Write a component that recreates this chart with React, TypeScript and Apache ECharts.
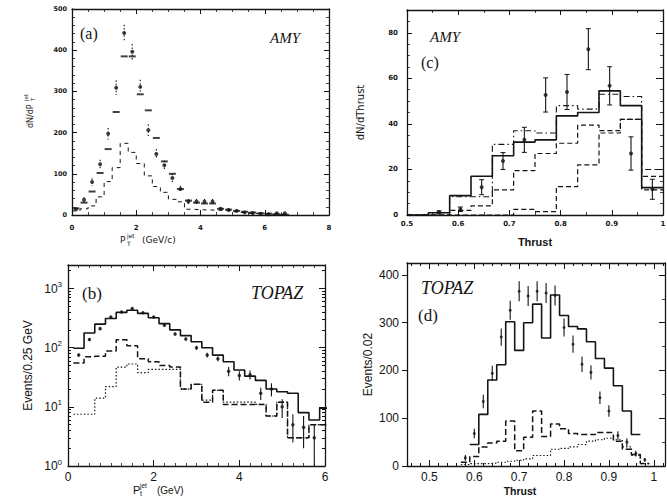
import React, { useEffect, useRef } from 'react';
import * as echarts from 'echarts';

// ---------- Panel (a) AMY : dN/dPT jet ----------
const aCenters = [0.125, 0.375, 0.625, 0.875, 1.125, 1.375, 1.625, 1.875, 2.125, 2.375, 2.625, 2.875, 3.125, 3.375, 3.625, 3.875, 4.125, 4.375, 4.625, 4.875, 5.125, 5.375, 5.625, 5.875, 6.125, 6.375, 6.625];
const aData = [14, 37, 80, 123, 197, 309, 442, 396, 311, 206, 148, 121, 90, 63, 33, 33, 33, 33, 15, 12, 10, 6, 5, 3, 2, 4, 4];
const aDataErr = [4, 6, 9, 11, 14, 18, 20, 19, 17, 14, 12, 11, 10, 8, 6, 6, 6, 6, 4, 4, 3, 3, 2, 2, 2, 2, 2];
const aMc = [16, 30, 57, 102, 160, 250, 385, 385, 293, 254, 187, 130, 100, 63, 35, 30, 28, 28, 15, 13, 10, 8, 6, 4, 3, 2, 1];
const aLowEdges = [0, 0.25, 0.5, 0.75, 1, 1.25, 1.5, 1.75, 2, 2.25, 2.5, 2.75, 3, 3.25, 3.5, 3.75, 4, 4.25, 4.5, 4.75, 5, 5.25, 5.5, 5.75, 6, 6.25, 6.5, 6.75];
const aLow = [10, 15, 22, 44, 81, 115, 174, 152, 125, 95, 69, 55, 38, 32, 14, 13, 12, 12, 11, 10, 8, 6, 4, 3, 2, 1, 1];

// ---------- Panel (c) AMY : dN/dThrust ----------
const cEdges = [0.5, 0.5417, 0.5833, 0.625, 0.6667, 0.7083, 0.75, 0.7917, 0.8333, 0.875, 0.9167, 0.9583, 1.0];
const cSolid = [0, 1, 8.5, 17, 26, 32, 33, 43.5, 45, 54.5, 48, 12];
const cDashDot = [0, 0, 8, 8, 31, 37, 36, 48, 46.5, 53, 52, 20];
const cDash = [0, 0, 2, 4, 11, 19.5, 27, 31.5, 39.5, 37, 42, 17];
const cLowDash = [0, 0, 0, 0, 0, 2.5, 1.5, 12.5, 22, 36, 42, 11];
const cCenters = [0.5625, 0.6042, 0.6458, 0.6875, 0.7292, 0.7708, 0.8125, 0.8542, 0.8958, 0.9375, 0.9792];
const cData = [1.3, 2.5, 12.2, 23.7, 33, 52.7, 54, 72.8, 56.7, 27, 11.3];
const cErr = [0.5, 1, 3.3, 3.7, 5.5, 7.5, 7.7, 9, 8.4, 7.3, 4.4];

// ---------- Panel (b) TOPAZ : Pt jet (log) ----------
const bEdges = [0.125, 0.375, 0.625, 0.875, 1.125, 1.375, 1.625, 1.875, 2.125, 2.375, 2.625, 2.875, 3.125, 3.375, 3.625, 3.875, 4.125, 4.375, 4.625, 4.875, 5.125, 5.375, 5.625, 5.875, 6.125];
const bSolid = [98, 177, 250, 312, 395, 430, 380, 320, 255, 200, 160, 126, 100, 75, 58, 42, 33, 28, 20, 18, 17, 8, 6, 9.5];
const bDash = [55, 70, 72, 88, 136, 108, 65, 58, 50, 47, 20, 24, 12, 19, 11, 11, 11, 11, 7, 12, 3, 3, 5, 5];
const bDot = [7.5, 7.5, 14, 22, 47, 53, 38, 43, 43, 43, 20, 24, 13, 19, 12, 12, 12, 11, 7, 12, 3, 3, 5, 5];
const bCenters = [0.25, 0.5, 0.75, 1, 1.25, 1.5, 1.75, 2, 2.25, 2.5, 2.75, 3, 3.25, 3.5, 3.75, 4, 4.25, 4.5, 4.75, 5, 5.25, 5.5, 5.75];
const bData = [75, 138, 210, 330, 400, 460, 390, 330, 240, 170, 140, 100, 75, 65, 40, 34, 35, 17, 20, 10, 5, 4.5, 3];
const bErr = [5, 8, 10, 14, 16, 18, 16, 14, 12, 10, 9, 8, 7, 6, 7, 6, 6, 4, 5, 3.5, 2.5, 2.5, 2];

// ---------- Panel (d) TOPAZ : Thrust ----------
const dEdges = [0.59, 0.61, 0.63, 0.65, 0.67, 0.69, 0.71, 0.73, 0.75, 0.77, 0.79, 0.81, 0.83, 0.85, 0.87, 0.89, 0.91, 0.93, 0.95, 0.97];
const dSolid = [45, 108, 180, 212, 302, 242, 300, 339, 268, 358, 315, 292, 287, 260, 225, 205, 168, 115, 66];
const dLowEdges = [0.57, 0.59, 0.61, 0.63, 0.65, 0.67, 0.69, 0.71, 0.73, 0.75, 0.77, 0.79, 0.81, 0.83, 0.85, 0.87, 0.89, 0.91, 0.93, 0.95, 0.97, 0.99];
const dDash = [8, 20, 40, 48, 52, 94, 32, 60, 115, 62, 88, 78, 68, 66, 66, 70, 70, 52, 35, 24, 5];
const dDot = [3, 5, 5, 6, 8, 10, 12, 15, 22, 22, 35, 37, 40, 45, 52, 55, 58, 55, 40, 22, 5];
const dCenters = [0.58, 0.6, 0.62, 0.64, 0.66, 0.68, 0.7, 0.72, 0.74, 0.76, 0.78, 0.8, 0.82, 0.84, 0.86, 0.88, 0.9, 0.92, 0.94, 0.96, 0.98];
const dData = [17, 68, 135, 194, 270, 326, 366, 356, 366, 362, 357, 290, 255, 213, 196, 143, 115, 64, 50, 26, 13];
const dErr = [6, 10, 14, 16, 18, 20, 21, 21, 21, 21, 21, 19, 18, 16, 15, 13, 12, 9, 8, 6, 4];
const dTickLabels = [0.5, 0.6, 0.7, 0.8, 0.9, 1.0];

const INK = '#141414';
const SANS = '"Liberation Sans", Arial, sans-serif';
const SMALL = '"DejaVu Sans", sans-serif';
const SERIF = '"Liberation Serif", "Times New Roman", serif';

function stepData(edges: number[], vals: number[]) {
  const out: number[][] = [];
  for (let i = 0; i < vals.length; i++) out.push([edges[i], vals[i]]);
  out.push([edges[vals.length], vals[vals.length - 1]]);
  return out;
}

function clean(o: any) {
  const r: any = {};
  Object.keys(o).forEach((k) => { if (o[k] !== undefined) r[k] = o[k]; });
  return r;
}

function axis(gridIndex: number, position: string, min: number, max: number, o: any = {}) {
  return clean({
    type: o.type || 'value',
    gridIndex, position, min, max,
    interval: o.interval,
    logBase: o.logBase,
    axisLine: { show: o.line !== false, onZero: false, lineStyle: { color: INK, width: 1.3 } },
    axisTick: { show: o.tick !== false, inside: o.inside !== false, length: o.tickLen ?? 5, lineStyle: { color: INK, width: 1 }, customValues: o.tickValues },
    minorTick: o.minor ? { show: true, splitNumber: o.minor, length: 3, lineStyle: { color: INK, width: 0.8 } } : { show: false },
    axisLabel: o.label ? { show: true, color: INK, ...o.label } : { show: false },
    splitLine: { show: false },
    minorSplitLine: { show: false },
    name: o.name,
    nameLocation: o.name ? 'middle' : undefined,
    nameGap: o.nameGap,
    nameRotate: o.nameRotate,
    nameTextStyle: o.nameTextStyle,
  });
}

function stepLine(xi: number, yi: number, edges: number[], vals: number[], type: any, width: number) {
  return {
    type: 'line', xAxisIndex: xi, yAxisIndex: yi, step: 'end', symbol: 'none', showSymbol: false,
    data: stepData(edges, vals), clip: true,
    lineStyle: { color: INK, width, type },
    z: 2,
  };
}

function errBars(xi: number, yi: number, xs: number[], ys: number[], es: number[], floor: number, cap: number, dashed: boolean) {
  return {
    type: 'custom', xAxisIndex: xi, yAxisIndex: yi, clip: true,
    data: xs.map((x, i) => [x, ys[i], es[i]]),
    renderItem: (params: any, api: any) => {
      const x = api.value(0), y = api.value(1), e = api.value(2);
      const p1 = api.coord([x, y + e]);
      const p2 = api.coord([x, Math.max(y - e, floor)]);
      const st: any = { stroke: INK, lineWidth: 1.1 };
      if (dashed) st.lineDash = [1.5, 2];
      const children: any[] = [{ type: 'line', shape: { x1: p1[0], y1: p1[1], x2: p2[0], y2: p2[1] }, style: st }];
      if (cap > 0) {
        children.push({ type: 'line', shape: { x1: p1[0] - cap, y1: p1[1], x2: p1[0] + cap, y2: p1[1] }, style: { stroke: INK, lineWidth: 1 } });
        children.push({ type: 'line', shape: { x1: p2[0] - cap, y1: p2[1], x2: p2[0] + cap, y2: p2[1] }, style: { stroke: INK, lineWidth: 1 } });
      }
      return { type: 'group', children };
    },
    z: 3,
  };
}

function dots(xi: number, yi: number, xs: number[], ys: number[], size: number) {
  return {
    type: 'scatter', xAxisIndex: xi, yAxisIndex: yi, symbol: 'circle', symbolSize: size,
    data: xs.map((x, i) => [x, ys[i]]), itemStyle: { color: INK }, z: 4, clip: true,
  };
}

function txt(x: number, y: number, text: string, font: string, extra: any = {}) {
  return {
    type: 'text', x, y, z: 20,
    style: { text, font, fill: INK, textAlign: 'left', textVerticalAlign: 'middle', align: 'left', verticalAlign: 'middle', ...extra },
  };
}

export default function App() {
  const ref = useRef<HTMLDivElement>(null);
  useEffect(() => {
    if (!ref.current) return;
    const chart = echarts.init(ref.current, null, { renderer: 'svg' });

    const dMinor: number[] = [];
    for (let v = 46; v <= 102; v += 2) dMinor.push(v / 100);
    const bMinor: number[] = [];
    [1, 10, 100, 1000].forEach((d) => { for (let k = 2; k <= 9; k++) if (d * k < 2500) bMinor.push(d * k); });

    const smallLab = { fontSize: 7, fontFamily: SMALL, fontWeight: 'bold' };
    const bigLab = { fontSize: 12, fontFamily: SANS };
    const thrustFmt = (v: number) => (v > 0.999 ? '1' : v.toFixed(1));

    const option: any = {
      animation: false,
      backgroundColor: '#ffffff',
      grid: [
        { left: 72, top: 9, width: 257, height: 206, containLabel: false, outerBoundsMode: 'none' },
        { left: 407, top: 10, width: 256, height: 205, containLabel: false, outerBoundsMode: 'none' },
        { left: 68, top: 265, width: 257, height: 201, containLabel: false, outerBoundsMode: 'none' },
        { left: 407, top: 263, width: 258, height: 203, containLabel: false, outerBoundsMode: 'none' },
      ],
      xAxis: [
        axis(0, 'bottom', 0, 8, { interval: 2, minor: 4, label: { ...smallLab, margin: 9 } }),
        axis(0, 'top', 0, 8, { interval: 2, minor: 4 }),
        axis(1, 'bottom', 0.5, 1.0, { interval: 0.1, minor: 2, label: { ...smallLab, margin: 5, formatter: thrustFmt },
          name: 'Thrust', nameGap: 21, nameTextStyle: { fontSize: 11, fontFamily: SANS, fontWeight: 'bold', color: INK } }),
        axis(1, 'top', 0.5, 1.0, { interval: 0.1, minor: 2 }),
        axis(2, 'bottom', 0, 6, { interval: 2, minor: 8, label: { ...bigLab, margin: 5 }, tickLen: 6 }),
        axis(2, 'top', 0, 6, { interval: 2, minor: 8, tickLen: 6 }),
        axis(3, 'bottom', 0.45, 1.025, { tickValues: dTickLabels, tickLen: 6,
          label: { ...bigLab, margin: 5, customValues: dTickLabels, formatter: thrustFmt } }),
        axis(3, 'top', 0.45, 1.025, { tickValues: dTickLabels, tickLen: 6 }),
        axis(3, 'bottom', 0.45, 1.025, { line: false, tickValues: dMinor, tickLen: 3 }),
        axis(3, 'top', 0.45, 1.025, { line: false, tickValues: dMinor, tickLen: 3 }),
      ],
      yAxis: [
        axis(0, 'left', 0, 500, { interval: 100, minor: 5, label: { ...smallLab, fontSize: 6.5, margin: 5 } }),
        axis(0, 'right', 0, 500, { interval: 100, minor: 5 }),
        axis(1, 'left', 0, 90, { interval: 20, minor: 4, label: { ...smallLab, margin: 9, showMaxLabel: false },
          name: 'dN/dThrust', nameGap: 42, nameTextStyle: { fontSize: 10, fontFamily: SMALL, color: INK } }),
        axis(1, 'right', 0, 90, { interval: 20, minor: 4, tickLen: 7 }),
        axis(2, 'left', 1, 2500, { type: 'log', logBase: 10, tickLen: 6,
          label: {
            margin: 6, showMaxLabel: false,
            formatter: (v: number) => '{b|10}{s|' + Math.round(Math.log10(v)) + '}',
            rich: { b: { fontSize: 12, fontFamily: SANS, color: INK }, s: { fontSize: 8, fontFamily: SANS, color: INK, padding: [0, 0, 8, 0] } },
          },
          name: 'Events/0.25 GeV', nameGap: 34, nameTextStyle: { fontSize: 12, fontFamily: SANS, color: INK } }),
        axis(2, 'right', 1, 2500, { type: 'log', logBase: 10, tickLen: 6 }),
        axis(2, 'left', 1, 2500, { type: 'log', logBase: 10, line: false, tickValues: bMinor, tickLen: 3 }),
        axis(2, 'right', 1, 2500, { type: 'log', logBase: 10, line: false, tickValues: bMinor, tickLen: 3 }),
        axis(3, 'left', 0, 425, { interval: 100, inside: false, tickLen: 5,
          label: { ...bigLab, margin: 8, showMaxLabel: false },
          name: 'Events/0.02', nameGap: 33, nameTextStyle: { fontSize: 12, fontFamily: SANS, color: INK } }),
        axis(3, 'right', 0, 425, { interval: 100, minor: 2, tickLen: 6 }),
      ],
      series: [
        // (a)
        stepLine(0, 0, aLowEdges, aLow, [4, 4], 1),
        {
          type: 'scatter', xAxisIndex: 0, yAxisIndex: 0, symbol: 'rect', symbolSize: [7, 2],
          data: aCenters.map((x, i) => [x, aMc[i]]), itemStyle: { color: INK }, z: 3,
        },
        errBars(0, 0, aCenters, aData, aDataErr, 0, 0, true),
        dots(0, 0, aCenters, aData, 4),
        // (c)
        stepLine(2, 2, cEdges, cLowDash, [5, 3], 1.2),
        stepLine(2, 2, cEdges, cDash, [5, 3], 1.2),
        stepLine(2, 2, cEdges, cDashDot, [6, 3, 1.5, 3], 1.1),
        stepLine(2, 2, cEdges, cSolid, 'solid', 1.6),
        errBars(2, 2, cCenters, cData, cErr, 0, 2.5, false),
        dots(2, 2, cCenters, cData, 4),
        // (b)
        stepLine(4, 4, bEdges, bDot, [1.5, 2], 1.2),
        stepLine(4, 4, bEdges, bDash, [6, 3], 1.5),
        stepLine(4, 4, bEdges, bSolid, 'solid', 1.6),
        errBars(4, 4, bCenters, bData, bErr, 1, 0, false),
        dots(4, 4, bCenters, bData, 3.5),
        // (d)
        stepLine(6, 8, dLowEdges, dDot, [1.5, 2], 1.1),
        stepLine(6, 8, dLowEdges, dDash, [6, 3], 1.5),
        stepLine(6, 8, dEdges, dSolid, 'solid', 1.6),
        errBars(6, 8, dCenters, dData, dErr, 0, 0, false),
        dots(6, 8, dCenters, dData, 3),
      ],
      graphic: [
        // (a) labels
        txt(80, 33, '(a)', '16px ' + SERIF),
        txt(270, 38, 'AMY', 'italic 15px ' + SERIF),
        // (a) x title  P_T^jet (GeV/c)
        txt(120, 240, 'P', '9px ' + SMALL),
        txt(127, 243, 'T', '6px ' + SMALL),
        txt(127, 235, 'jet', '6px ' + SMALL),
        txt(142, 240, '(GeV/c)', '9px ' + SMALL),
        // (a) y title rotated
        {
          type: 'group', x: 30, y: 108, rotation: Math.PI / 2, z: 20,
          children: [
            txt(-20, 0, 'dN/dP', '8px ' + SMALL),
            txt(7, 3, 'T', '5.5px ' + SMALL),
            txt(7, -4, 'jet', '5.5px ' + SMALL),
          ],
        },
        // (c)
        txt(430, 37, 'AMY', 'italic 15px ' + SERIF),
        txt(421, 62, '(c)', '16px ' + SERIF),
        // (b)
        txt(82, 293, '(b)', '17px ' + SERIF),
        txt(251, 293, 'TOPAZ', 'italic 18px ' + SERIF),
        txt(133, 490, 'P', '11px ' + SANS),
        txt(140, 493, 't', '7px ' + SANS),
        txt(140, 485, 'jet', '6.5px ' + SANS),
        txt(157, 490, '(GeV)', '10px ' + SANS),
        // (d)
        txt(421, 288, 'TOPAZ', 'italic 18px ' + SERIF),
        txt(418, 315, '(d)', '17px ' + SERIF),
        txt(520, 491, 'Thrust', 'bold 10.5px ' + SANS, { textAlign: 'center', align: 'center' }),
      ],
    };
    chart.setOption(option);
    return () => chart.dispose();
  }, []);

  return <div ref={ref} style={{ position: 'fixed', left: 0, top: 0, width: 667, height: 501, background: '#fff' }} />;
}
